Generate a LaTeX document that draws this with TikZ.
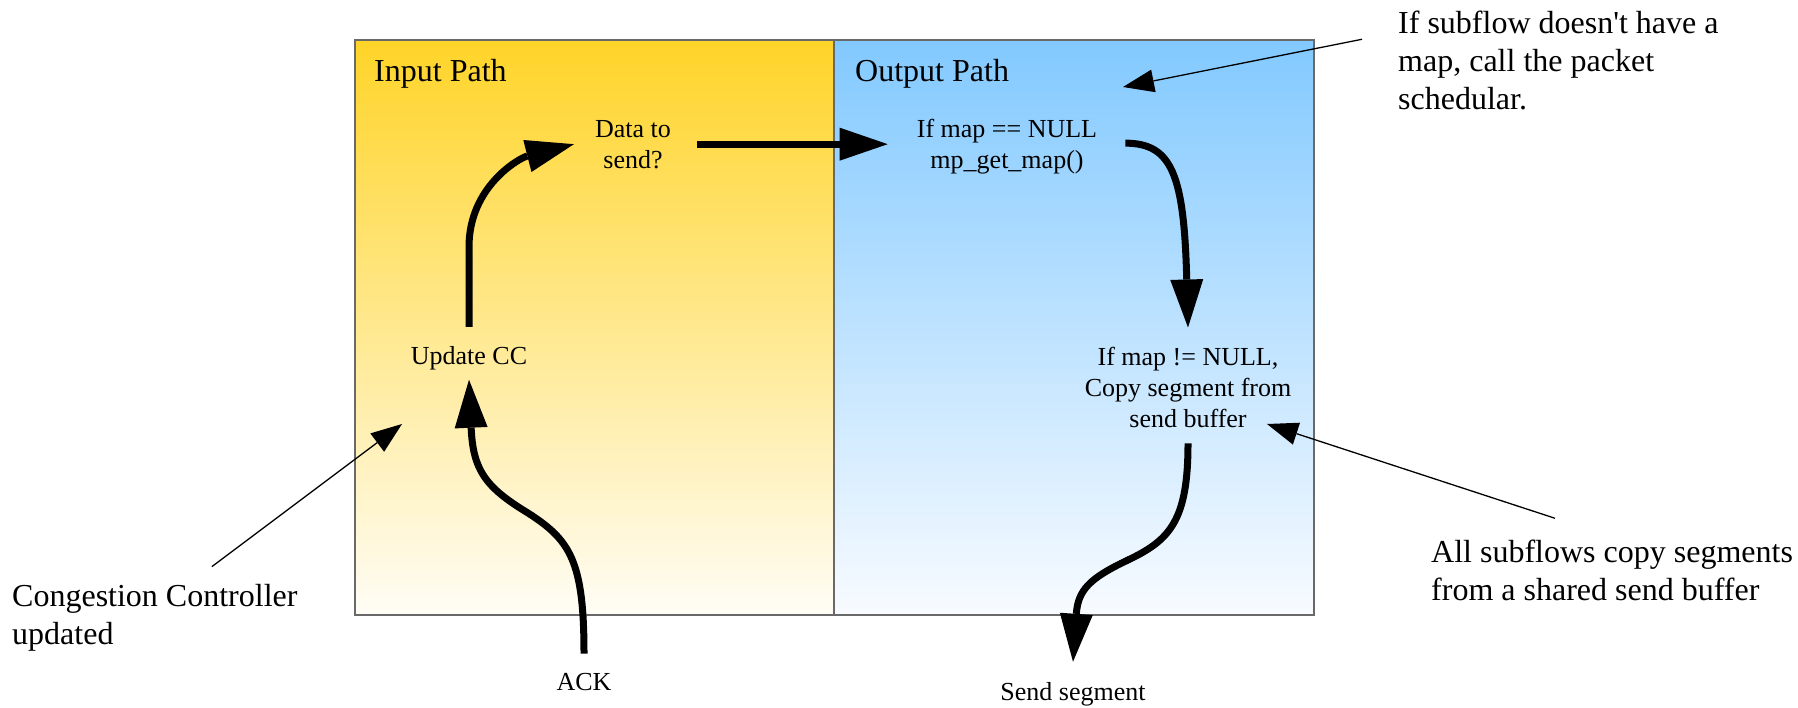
\documentclass[tikz,border=0pt]{standalone}
\usepackage{fontspec}
\setmainfont{Liberation Serif}
\newfontfamily\plainserif{Liberation Serif}
\usetikzlibrary{arrows.meta}
\definecolor{ytop}{RGB}{255,212,40}
\definecolor{ybot}{RGB}{255,253,246}
\definecolor{btop}{RGB}{130,201,255}
\definecolor{bbot}{RGB}{248,251,255}
\definecolor{framecol}{RGB}{105,105,105}
\begin{document}
\begin{tikzpicture}[x=1pt,y=-1pt,
  bigarrow/.style={line width=7pt,-{Triangle[length=48pt,width=33pt,line width=0pt]}},
  thinarrow/.style={line width=1.3pt,-{Triangle[length=31pt,width=23pt,line width=0pt]}},
  body/.style={font=\plainserif\fontsize{26}{31}\selectfont,inner sep=0pt,align=center},
  anno/.style={font=\plainserif\fontsize{32}{38}\selectfont,inner sep=0pt,align=left},
  paneltitle/.style={font=\plainserif\fontsize{32}{38}\selectfont,inner sep=0pt}]
\useasboundingbox (0,0) rectangle (1798,707);
% panels
\shade[top color=ytop,bottom color=ybot] (355,40) rectangle (834,615);
\shade[top color=btop,bottom color=bbot] (834,40) rectangle (1314,615);
\draw[framecol,line width=1.5pt] (355,40) rectangle (1314,615);
\draw[framecol,line width=1.5pt] (834,40) -- (834,615);
% titles
\node[paneltitle,anchor=base west] (inp) at (374,81) {Input Path};
\node[paneltitle,anchor=base west] (outp) at (855,81) {Output Path};
% process nodes (base = baseline of the last line)
\node[body,anchor=base] (data) at (633,168) {Data to\\send?};
\node[body,anchor=base] (ifmap) at (1007,168) {If map == NULL\\mp\_get\_map()};
\node[body,anchor=base] (update) at (469,364) {Update CC};
\node[body,anchor=base] (copy) at (1188,427) {If map != NULL,\\Copy segment from\\send buffer};
\node[body,anchor=base] (ack) at (584,690) {ACK};
\node[body,anchor=base] (send) at (1073,700) {Send segment};
% annotations
\node[anno,anchor=base west] (cong) at (12,644) {Congestion Controller\\updated};
\node[anno,anchor=base west] (subnote) at (1398,109) {If subflow doesn't have a\\map, call the packet\\schedular.};
\node[anno,anchor=base west] (allnote) at (1431,600) {All subflows copy segments\\from a shared send buffer};
\coordinate (congtip) at (402,424);
\coordinate (subtip) at (1123,87);
\coordinate (alltip) at (1267,424);
% main flow
\draw[bigarrow] ([xshift=26pt]data.east) -- ([xshift=-29pt]data.east -| ifmap.west);
\draw[bigarrow] ([yshift=19pt]update.north) -- ++(0,-80)
  .. controls +(0,-60) and +(-55,14) .. ([xshift=-21pt]data.west);
\draw[bigarrow] ([yshift=19pt]ack.north) .. controls +(0,-93) and +(42,27) .. (528,513)
  .. controls +(-43,-26) and +(4,90) .. ([yshift=-10pt]update.south);
\draw[bigarrow] ([xshift=28pt,yshift=3pt]ifmap.east) .. controls +(47,0) and +(-4,-152) .. ([yshift=19pt]copy.north);
\draw[bigarrow] ([yshift=-16pt]copy.south) .. controls +(0,77) and +(42,-20) .. (1128,560)
  .. controls +(-38,18) and +(5,-72) .. ([yshift=20pt]send.north);
% annotation pointers
\draw[thinarrow] ([xshift=57pt,yshift=17pt]cong.north) -- (congtip);
\draw[thinarrow] ([xshift=-36pt,yshift=-29pt]subnote.north west) -- (subtip);
\draw[thinarrow] ([xshift=124pt,yshift=21pt]allnote.north west) -- (alltip);
\end{tikzpicture}
\end{document}
